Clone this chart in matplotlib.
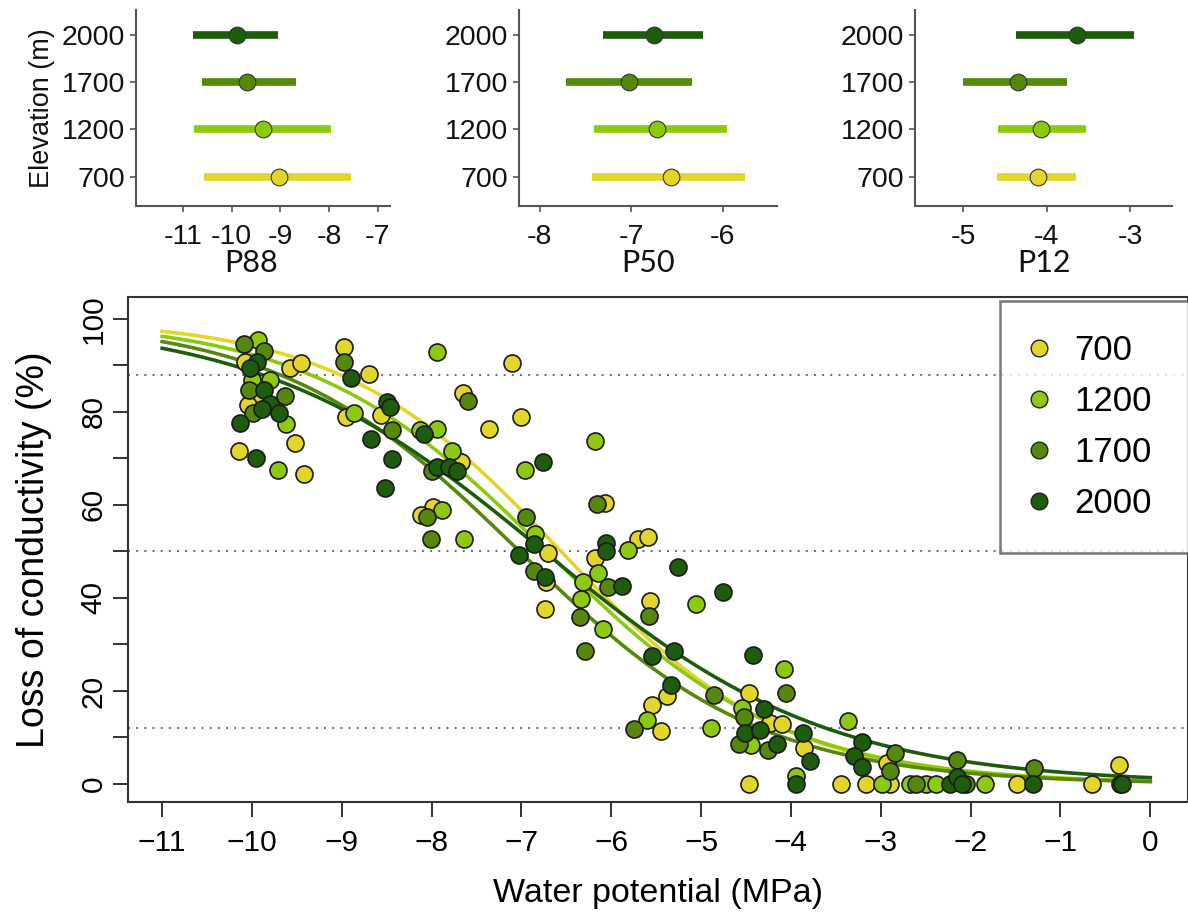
import numpy as np
import matplotlib.pyplot as plt
from matplotlib.lines import Line2D

plt.rcParams['font.family'] = ['Liberation Sans', 'DejaVu Sans']

elev = ['700', '1200', '1700', '2000']
colors = ['#E2D62A', '#8DC90E', '#56880C', '#1D5C0C']

# top panels: estimate and interval per elevation (700, 1200, 1700, 2000)
p88 = [-9.02, -9.35, -9.69, -9.89]
p88_lo = [-10.57, -10.77, -10.62, -10.80]
p88_hi = [-7.56, -7.96, -8.69, -9.05]
p50 = [-6.56, -6.72, -7.02, -6.75]
p50_lo = [-7.43, -7.41, -7.71, -7.31]
p50_hi = [-5.75, -5.95, -6.33, -6.21]
p12 = [-4.11, -4.07, -4.35, -3.64]
p12_lo = [-4.60, -4.58, -5.01, -4.37]
p12_hi = [-3.65, -3.53, -3.76, -2.96]

# scatter: water potential (MPa) and loss of conductivity (%)
x700 = [-10.08, -9.58, -9.45, -9.97, -10.04, -9.52, -10.14, -9.42, -8.98, -8.70,
        -8.95, -8.56, -7.11, -7.65, -7.00, -7.36, -7.67, -7.98, -8.12, -6.70,
        -6.07, -5.70, -5.59, -6.18, -6.73, -6.74, -5.57, -4.47, -5.38, -5.55,
        -4.23, -4.10, -3.85, -4.47, -3.44, -3.17, -2.90, -2.93, -1.48, -0.65,
        -0.35, -5.45]
y700 = [90.8, 89.5, 90.5, 82.2, 81.5, 73.3, 71.6, 66.6, 93.9, 88.1,
        79.0, 79.4, 90.5, 84.0, 78.8, 76.3, 69.3, 59.6, 57.8, 49.7,
        60.5, 52.6, 53.2, 48.5, 43.5, 37.6, 39.4, 19.5, 18.9, 17.0,
        13.2, 13.0, 7.7, 0.0, 0.0, 0.0, 0.0, 4.6, 0.0, 0.0,
        4.1, 11.5]

x1200 = [-9.93, -10.00, -9.80, -9.62, -9.71, -7.94, -8.86, -8.13, -7.94, -7.77,
         -6.96, -6.18, -7.89, -7.64, -6.85, -5.81, -6.15, -6.32, -6.34, -6.09,
         -5.06, -4.08, -4.54, -4.89, -4.45, -3.94, -3.37, -2.99, -2.67, -2.50,
         -2.38, -1.84, -5.60]
y1200 = [95.5, 86.9, 86.9, 77.4, 67.4, 92.8, 79.8, 76.1, 76.3, 71.6,
         67.6, 73.8, 58.9, 52.7, 53.8, 50.4, 45.3, 43.5, 39.8, 33.3,
         38.6, 24.7, 16.3, 12.1, 8.4, 1.7, 13.5, 0.0, 0.0, 0.0,
         0.0, 0.0, 13.8]

x1700 = [-10.09, -9.87, -10.03, -9.63, -9.99, -8.97, -8.44, -7.60, -8.00, -8.05,
         -8.01, -6.95, -6.16, -6.86, -6.04, -6.35, -6.29, -5.58, -4.06, -4.86,
         -4.52, -4.58, -4.25, -2.84, -2.90, -2.61, -2.05, -2.15, -1.29, -0.34,
         -5.75]
y1700 = [94.6, 93.0, 84.6, 83.5, 79.7, 90.8, 76.1, 82.4, 67.2, 57.3,
         52.6, 57.3, 60.3, 45.9, 42.4, 35.8, 28.7, 36.1, 19.5, 19.1,
         14.5, 8.6, 7.4, 6.7, 2.9, 0.0, 0.0, 5.2, 3.4, 0.0,
         11.8]

x2000 = [-9.94, -10.02, -9.87, -9.80, -9.89, -9.70, -10.13, -9.95, -8.90, -8.50,
         -8.46, -8.68, -8.08, -8.44, -8.52, -7.94, -7.81, -7.72, -6.76, -6.86,
         -7.03, -6.06, -6.06, -6.74, -5.88, -5.26, -4.76, -5.55, -5.30, -4.42,
         -5.33, -4.30, -4.51, -4.35, -4.16, -3.87, -3.79, -3.94, -3.21, -3.30,
         -3.21, -2.23, -2.15, -2.10, -1.30, -0.32]
y2000 = [90.8, 89.5, 84.7, 81.8, 80.6, 79.7, 77.7, 70.0, 87.2, 82.2,
         81.1, 74.2, 75.2, 69.8, 63.6, 68.2, 68.2, 67.3, 69.2, 51.6,
         49.2, 51.8, 50.0, 44.4, 42.6, 46.6, 41.2, 27.5, 28.5, 27.8,
         21.3, 16.2, 10.9, 11.6, 8.5, 10.9, 5.0, 0.0, 9.1, 6.0,
         3.7, 0.0, 1.6, 0.0, 0.0, 0.0]

xs = [x700, x1200, x1700, x2000]
ys = [y700, y1200, y1700, y2000]

fig = plt.figure(figsize=(11.88, 9.17), dpi=100)

# ---- top panels ----
panels = [
    (136, 390, (-11.965, -6.75), [-11, -10, -9, -8, -7], 'P88', p88, p88_lo, p88_hi, 0.455),
    (519, 777, (-8.227, -5.405), [-8, -7, -6], 'P50', p50, p50_lo, p50_hi, 0.5),
    (915, 1172, (-5.58, -2.5), [-5, -4, -3], 'P12', p12, p12_lo, p12_hi, 0.5),
]
for k, (l, r, xl, ticks, name, est, lo, hi, lx) in enumerate(panels):
    ax = fig.add_axes([l / 1188, 1 - 206 / 917, (r - l) / 1188, 196 / 917])
    for i in range(4):
        ax.plot([lo[i], hi[i]], [i + 1, i + 1], color=colors[i], lw=5.5,
                solid_capstyle='butt', zorder=2)
        ax.plot(est[i], i + 1, 'o', ms=12, mfc=colors[i], mec='#333333',
                mew=0.8, zorder=3)
    ax.set_xlim(*xl)
    ax.set_ylim(0.376, 4.53)
    ax.set_xticks(ticks)
    ax.set_xticklabels([str(t) for t in ticks])
    ax.set_yticks([1, 2, 3, 4])
    ax.set_yticklabels(elev)
    for s in ['top', 'right']:
        ax.spines[s].set_visible(False)
    for s in ['left', 'bottom']:
        ax.spines[s].set_color('#555555')
        ax.spines[s].set_linewidth(1.5)
    ax.tick_params(colors='#555555', length=4, width=1.2, labelcolor='#111111',
                   labelsize=20.5, pad=4)
    ax.tick_params(axis='x', pad=9)
    ax.set_xlabel(name, family='Lato', fontsize=22, color='#111111')
    ax.xaxis.set_label_coords(lx, -0.22)
    if k == 0:
        ax.set_ylabel('Elevation (m)', fontsize=19.5, labelpad=5, color='#111111')

# ---- main plot ----
ax = fig.add_axes([128 / 1188, 1 - 802 / 917, 1060 / 1188, 505 / 917])
for h in [88, 50, 12]:
    ax.axhline(h, color='#6a6a6a', ls=(0, (1, 3.2)), lw=1.4, zorder=1)

psi = np.linspace(-11, 0, 300)
for i in range(4):
    slope = np.log(88 / 12) / (p50[i] - p88[i])
    plc = 100 / (1 + np.exp(slope * (psi - p50[i])))
    ax.plot(psi, plc, color=colors[i], lw=2.6, zorder=2)

for i in range(4):
    ax.scatter(xs[i], ys[i], s=150, c=colors[i], edgecolors='#1a1a1a',
               linewidths=1.2, zorder=3)

ax.set_xlim(-11.38, 0.42)
ax.set_ylim(-3.87, 104.7)
ax.set_xticks(range(-11, 1))
ax.set_xticklabels([str(v).replace('-', '\u2212') for v in range(-11, 1)])
ax.set_yticks(range(0, 101, 10))
ax.set_yticklabels([str(v) if v % 20 == 0 else '' for v in range(0, 101, 10)],
                   rotation=90, va='center')
ax.tick_params(length=10.5, width=1.3, labelsize=21.5, color='#222222')
ax.tick_params(axis='x', pad=9)
ax.tick_params(axis='y', pad=4)
for s in ax.spines.values():
    s.set_linewidth(1.5)
    s.set_color('#333333')
ax.set_xlabel('Water potential (MPa)', fontsize=24.5, labelpad=15)
ax.set_ylabel('Loss of conductivity (%)', fontsize=27, labelpad=20)

handles = [Line2D([], [], ls='', marker='o', ms=12, mfc=c, mec='#222222', mew=1.0)
           for c in colors]
leg = ax.legend(handles, elev, loc='upper left', bbox_to_anchor=(0.8226, 0.992, 0.2, 0.0),
                mode='expand', fontsize=25, frameon=True, fancybox=False,
                borderpad=0.95, labelspacing=0.52, handlelength=0.35,
                handletextpad=0.85, borderaxespad=0)
leg.get_frame().set_edgecolor('#555555')
leg.get_frame().set_linewidth(1.8)
leg.get_frame().set_facecolor('white')
leg.set_zorder(5)

fig.savefig('out.png', dpi=100)
